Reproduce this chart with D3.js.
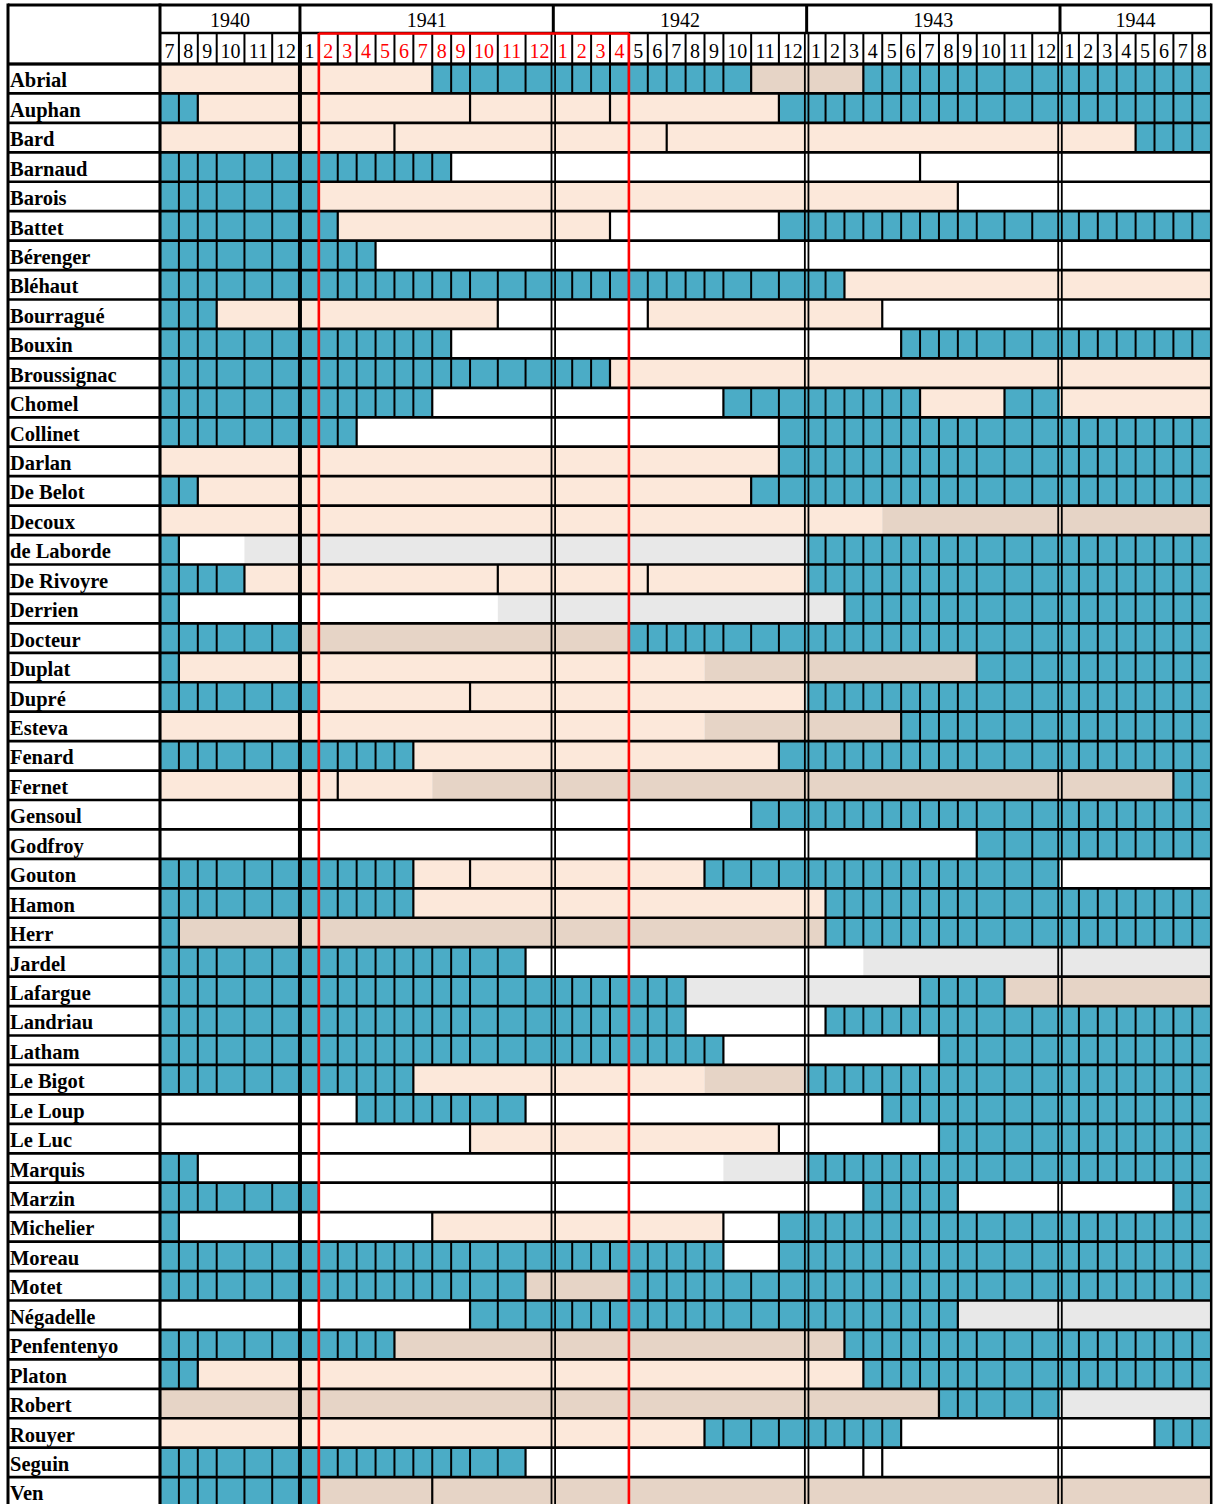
<!DOCTYPE html>
<html><head><meta charset="utf-8">
<script src="https://cdn.jsdelivr.net/npm/d3@7"></script>
<style>body{margin:0;background:#fff}svg{display:block}</style>
</head><body><svg id="c" width="1216" height="1504"></svg>
<script>
// ---------------- DATA ----------------
const names = ["Abrial","Auphan","Bard","Barnaud","Barois","Battet","Bérenger","Bléhaut","Bourragué","Bouxin","Broussignac","Chomel","Collinet","Darlan","De Belot","Decoux","de Laborde","De Rivoyre","Derrien","Docteur","Duplat","Dupré","Esteva","Fenard","Fernet","Gensoul","Godfroy","Gouton","Hamon","Herr","Jardel","Lafargue","Landriau","Latham","Le Bigot","Le Loup","Le Luc","Marquis","Marzin","Michelier","Moreau","Motet","Négadelle","Penfentenyo","Platon","Robert","Rouyer","Seguin","Ven"];
const years = [1940,1941,1942,1943,1944];
const firstMonth = [1940, 7], lastMonth = [1944, 8];
const highlight = [4102, 4204];   // red-framed period (Feb 1941 – Apr 1942)
// spans per row: [status, from YYMM, to YYMM inclusive]
// T = active (teal), P = peach, B = beige, W = white, G = grey
const spans = [
 [["P",4007,4012],["P",4101,4107],["T",4108,4210],["B",4211,4212],["B",4301,4303],["T",4304,4408]],
 [["T",4007,4008],["P",4009,4109],["P",4110,4203],["P",4204,4211],["T",4212,4408]],
 [["P",4007,4012],["P",4101,4105],["P",4106,4206],["P",4207,4212],["P",4301,4312],["P",4401,4404],["T",4405,4408]],
 [["T",4007,4108],["W",4109,4306],["W",4307,4312],["W",4401,4408]],
 [["T",4007,4101],["P",4102,4308],["W",4309,4408]],
 [["T",4007,4102],["P",4103,4203],["W",4204,4211],["T",4212,4408]],
 [["T",4007,4104],["W",4105,4408]],
 [["T",4007,4302],["P",4303,4408]],
 [["T",4007,4009],["P",4010,4110],["W",4111,4205],["P",4206,4304],["W",4305,4408]],
 [["T",4007,4108],["W",4109,4305],["T",4306,4408]],
 [["T",4007,4203],["P",4204,4408]],
 [["T",4007,4107],["W",4108,4209],["T",4210,4306],["P",4307,4310],["T",4311,4312],["P",4401,4408]],
 [["T",4007,4103],["W",4104,4211],["T",4212,4408]],
 [["P",4007,4012],["P",4101,4211],["T",4212,4408]],
 [["T",4007,4008],["P",4009,4210],["T",4211,4408]],
 [["P",4007,4304],["B",4305,4408]],
 [["T",4007,4007],["W",4008,4010],["G",4011,4212],["T",4301,4408]],
 [["T",4007,4010],["P",4011,4110],["P",4111,4205],["P",4206,4212],["T",4301,4408]],
 [["T",4007,4007],["W",4008,4110],["G",4111,4302],["T",4303,4408]],
 [["T",4007,4012],["B",4101,4204],["T",4205,4408]],
 [["T",4007,4007],["P",4008,4208],["B",4209,4309],["T",4310,4408]],
 [["T",4007,4101],["P",4102,4109],["P",4110,4212],["T",4301,4408]],
 [["P",4007,4208],["B",4209,4305],["T",4306,4408]],
 [["T",4007,4106],["P",4107,4211],["T",4212,4408]],
 [["P",4007,4012],["P",4101,4102],["P",4103,4107],["B",4108,4406],["T",4407,4408]],
 [["W",4007,4210],["T",4211,4408]],
 [["W",4007,4309],["T",4310,4408]],
 [["T",4007,4106],["P",4107,4109],["P",4110,4208],["T",4209,4312],["W",4401,4408]],
 [["T",4007,4106],["P",4107,4301],["T",4302,4408]],
 [["T",4007,4007],["B",4008,4301],["T",4302,4408]],
 [["T",4007,4111],["W",4112,4303],["G",4304,4408]],
 [["T",4007,4207],["G",4208,4306],["T",4307,4310],["B",4311,4408]],
 [["T",4007,4207],["W",4208,4301],["T",4302,4408]],
 [["T",4007,4209],["W",4210,4307],["T",4308,4408]],
 [["T",4007,4106],["P",4107,4208],["B",4209,4212],["T",4301,4408]],
 [["W",4007,4103],["T",4104,4111],["W",4112,4304],["T",4305,4408]],
 [["W",4007,4109],["P",4110,4211],["W",4212,4307],["T",4308,4408]],
 [["T",4007,4008],["W",4009,4209],["G",4210,4212],["T",4301,4408]],
 [["T",4007,4101],["W",4102,4303],["T",4304,4308],["W",4309,4406],["T",4407,4408]],
 [["T",4007,4007],["W",4008,4107],["P",4108,4209],["W",4210,4211],["T",4212,4408]],
 [["T",4007,4209],["W",4210,4211],["T",4212,4408]],
 [["T",4007,4111],["B",4112,4204],["T",4205,4408]],
 [["W",4007,4109],["T",4110,4308],["G",4309,4408]],
 [["T",4007,4105],["B",4106,4302],["T",4303,4408]],
 [["T",4007,4008],["P",4009,4303],["T",4304,4408]],
 [["B",4007,4307],["T",4308,4312],["G",4401,4408]],
 [["P",4007,4208],["T",4209,4305],["W",4306,4405],["T",4406,4408]],
 [["T",4007,4111],["W",4112,4303],["W",4304,4304],["W",4305,4408]],
 [["T",4007,4101],["B",4102,4107],["B",4108,4408]]
];
const colors = {T:"#4BACC6", P:"#FCE8DA", B:"#E6D4C6", W:"#FFFFFF", G:"#E8E8E8"};

(function(){
// ---------------- LAYOUT ----------------
const svg = d3.select("#c");
const H = 1504;
const left = 8, nameRight = 160, topY = 5, yearBottom = 33, headBottom = 64, rowH = 29.44;
const serif = "'Liberation Serif','Times New Roman',serif";

const months = d3.timeMonth.range(new Date(firstMonth[0], firstMonth[1]-1, 1), new Date(lastMonth[0], lastMonth[1], 1));
const labels = months.map(d => String(d.getMonth()+1));
const idx = c => (Math.floor(c/100) - (firstMonth[0]-1900))*12 + (c%100) - firstMonth[1];
const w1 = 18.9, w2 = 27.75;
const cum = [nameRight];
labels.forEach(l => cum.push(cum[cum.length-1] + (l.length > 1 ? w2 : w1)));
const x = d3.scaleLinear().domain(d3.range(months.length+1)).range(cum);
const right = cum[cum.length-1];
const y = d3.scaleBand().domain(names).range([headBottom, headBottom + names.length*rowH]);
const bottom = H;
// month indexes that start a year after the first boundary -> drawn as double lines
const doubleK = new Set(months.map((d,k)=>[d,k]).filter(p=>p[1]>0 && p[0].getMonth()===0 && p[0].getFullYear()!==years[1]).map(p=>p[1]));

svg.append("rect").attr("width",1216).attr("height",H).attr("fill","#fff");

// ---- body fills ----
const body = svg.append("g");
names.forEach((n,i) => {
  const y0 = y(n), h = y.bandwidth();
  spans[i].forEach(s => {
    const a = idx(s[1]), b = idx(s[2])+1;
    body.append("rect").attr("x",x(a)).attr("y",y0).attr("width",x(b)-x(a)).attr("height",h)
      .attr("fill",colors[s[0]]);
  });
});
// ---- body vertical borders ----
const vl = svg.append("g").attr("stroke","#000");
names.forEach((n,i) => {
  const y0 = y(n), h = y.bandwidth();
  spans[i].forEach((s,j) => {
    const a = idx(s[1]), b = idx(s[2])+1;
    const prev = j > 0 ? spans[i][j-1][0] : null;
    const joined = (s[0]==="B"||s[0]==="G") && (prev==="P"||prev==="W");
    if (!joined && !doubleK.has(a)) vl.append("line").attr("x1",x(a)).attr("x2",x(a)).attr("y1",y0).attr("y2",y0+h).attr("stroke-width",2.2);
    if (s[0]==="T") {
      for (let k=a+1;k<b;k++) if (!doubleK.has(k)) vl.append("line").attr("x1",x(k)).attr("x2",x(k)).attr("y1",y0).attr("y2",y0+h).attr("stroke-width",2);
    }
  });
});

// ---- header ----
const hd = svg.append("g");
hd.append("rect").attr("x",left).attr("y",topY).attr("width",right-left).attr("height",headBottom-topY).attr("fill","#fff");
months.forEach((d,k) => {
  if (k>0 && !doubleK.has(k)) hd.append("line").attr("x1",x(k)).attr("x2",x(k)).attr("y1",yearBottom).attr("y2",headBottom).attr("stroke","#000").attr("stroke-width",2);
});
const hiA = idx(highlight[0]), hiB = idx(highlight[1])+1;
hd.selectAll("text.m").data(labels).join("text").attr("class","m")
  .attr("x",(d,k)=> (x(k)+x(k+1))/2).attr("y",58).attr("text-anchor","middle")
  .attr("font-family",serif).attr("font-size",20)
  .attr("fill",(d,k)=> k>=hiA && k<hiB ? "#FF0000" : "#000").text(d=>d);
years.forEach(yr => {
  const ks = months.map((d,k)=>[d,k]).filter(p=>p[0].getFullYear()===yr).map(p=>p[1]);
  const a = ks[0], b = ks[ks.length-1]+1;
  hd.append("text").attr("x",(x(a)+x(b))/2).attr("y",27).attr("text-anchor","middle")
    .attr("font-family",serif).attr("font-size",20).text(yr);
  if (a>0) hd.append("line").attr("x1",x(a)).attr("x2",x(a)).attr("y1",topY).attr("y2",yearBottom).attr("stroke","#000").attr("stroke-width",3);
});
hd.append("line").attr("x1",nameRight).attr("x2",right).attr("y1",yearBottom).attr("y2",yearBottom).attr("stroke","#000").attr("stroke-width",2.5);
hd.append("line").attr("x1",left).attr("x2",right).attr("y1",topY).attr("y2",topY).attr("stroke","#000").attr("stroke-width",3);

// ---- row lines ----
const rl = svg.append("g").attr("stroke","#000").attr("stroke-width",2.7);
d3.range(names.length+1).forEach(i => {
  const yy = headBottom + i*rowH;
  rl.append("line").attr("x1",left).attr("x2",right).attr("y1",yy).attr("y2",yy);
});

// ---- year separators (body + month row) ----
const ys = svg.append("g").attr("fill","#000");
months.forEach((d,k) => {
  if (k>0 && d.getMonth()===0) {
    const xx = x(k);
    if (!doubleK.has(k)) {
      ys.append("rect").attr("x",xx-2).attr("y",yearBottom).attr("width",4).attr("height",bottom-yearBottom);
    } else {
      ys.append("rect").attr("x",xx-2.7).attr("y",yearBottom).attr("width",1.8).attr("height",bottom-yearBottom);
      ys.append("rect").attr("x",xx+0.9).attr("y",yearBottom).attr("width",1.8).attr("height",bottom-yearBottom);
    }
  }
});

// ---- name column ----
const nc = svg.append("g");
nc.selectAll("text").data(names).join("text")
  .attr("x",10).attr("y",d=>y(d)+23.3)
  .attr("font-family",serif).attr("font-weight","bold").attr("font-size",20.5).text(d=>d);
[left, nameRight].forEach(xx => nc.append("line").attr("x1",xx).attr("x2",xx).attr("y1",topY-1.5).attr("y2",bottom).attr("stroke","#000").attr("stroke-width",3));
nc.append("line").attr("x1",right).attr("x2",right).attr("y1",topY-1.5).attr("y2",bottom).attr("stroke","#000").attr("stroke-width",2.5);
nc.append("line").attr("x1",left).attr("x2",right).attr("y1",headBottom).attr("y2",headBottom).attr("stroke","#000").attr("stroke-width",3);

// ---- red highlight ----
const red = svg.append("g").attr("stroke","#FF0000").attr("stroke-width",2.6);
red.append("line").attr("x1",x(hiA)).attr("x2",x(hiB)).attr("y1",yearBottom+0.5).attr("y2",yearBottom+0.5);
[hiA,hiB].forEach(k => red.append("line").attr("x1",x(k)).attr("x2",x(k)).attr("y1",yearBottom).attr("y2",bottom));
})();
</script></body></html>
